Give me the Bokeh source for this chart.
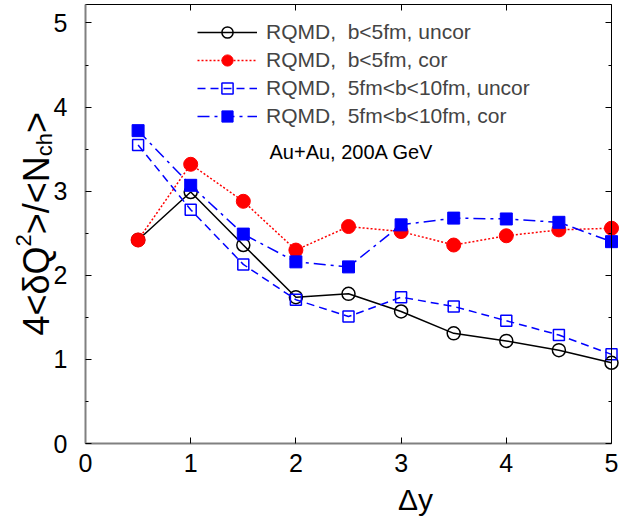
import math
from bokeh.plotting import figure
from bokeh.models import Range1d, LinearAxis, Legend, LegendItem, Label, FixedTicker
from bokeh.embed import file_html
from bokeh.resources import INLINE

# ---- data ----
dy = [0.5, 1.0, 1.5, 2.0, 2.5, 3.0, 3.5, 4.0, 4.5, 5.0]
b5_uncor = [2.42, 2.99, 2.36, 1.74, 1.78, 1.57, 1.31, 1.22, 1.11, 0.96]
b5_cor = [2.42, 3.32, 2.88, 2.30, 2.58, 2.52, 2.36, 2.47, 2.54, 2.56]
b510_uncor = [3.55, 2.78, 2.13, 1.71, 1.51, 1.74, 1.63, 1.46, 1.29, 1.06]
b510_cor = [3.72, 3.07, 2.49, 2.16, 2.10, 2.60, 2.68, 2.67, 2.63, 2.40]
x_ticks = [0, 1, 2, 3, 4, 5]
y_ticks = [0, 1, 2, 3, 4, 5]
y_minor = [0.5, 1.5, 2.5, 3.5, 4.5]
labels = ["RQMD,  b<5fm, uncor", "RQMD,  b<5fm, cor",
          "RQMD,  5fm<b<10fm, uncor", "RQMD,  5fm<b<10fm, cor"]
note = "Au+Au, 200A GeV"
x_title = "\u0394y"

# axis box limits (data units)
X0, X1 = 0.0, 5.0
Y0, Y1 = 0.0, 5.22

FONT = "Liberation Sans"
W_PX, H_PX = 619, 523

p = figure(width=W_PX, height=H_PX, output_backend="svg", toolbar_location=None,
           x_range=Range1d(-0.808, 5.076), y_range=Range1d(-0.951, 5.2675),
           x_axis_type=None, y_axis_type=None, min_border=0,
           min_border_left=0, min_border_right=0, min_border_top=0, min_border_bottom=0)
p.grid.visible = False
p.outline_line_color = None
p.background_fill_color = "white"
p.border_fill_color = "white"

# series
r1l = p.line(dy, b5_uncor, line_color="black", line_width=1.5)
r1s = p.scatter(dy, b5_uncor, marker="circle", size=13, line_color="black",
                line_width=1.5, fill_alpha=0)
r2l = p.line(dy, b5_cor, line_color="red", line_width=1.5, line_dash="2 2")
r2s = p.scatter(dy, b5_cor, marker="circle", size=14, line_color="red",
                fill_color="red")
r3l = p.line(dy, b510_uncor, line_color="blue", line_width=1.5, line_dash="8 5")
r3s = p.scatter(dy, b510_uncor, marker="square", size=11, line_color="blue",
                line_width=1.5, fill_alpha=0)
r4l = p.line(dy, b510_cor, line_color="blue", line_width=1.5, line_dash="12 5 3 5")
r4s = p.scatter(dy, b510_cor, marker="square", size=12, line_color="blue",
                fill_color="blue")


def make_axis(ticks, minor, loc, bounds, show_labels, color, width, standoff):
    ax = LinearAxis(fixed_location=loc, bounds=bounds)
    ax.ticker = FixedTicker(ticks=ticks, minor_ticks=minor)
    ax.major_tick_in = 6
    ax.major_tick_out = 0
    ax.minor_tick_in = 3 if minor else 0
    ax.minor_tick_out = 0
    ax.axis_line_color = color
    ax.axis_line_width = width
    ax.major_tick_line_color = "black"
    ax.minor_tick_line_color = "black"
    ax.major_label_text_font = FONT
    ax.major_label_text_color = "black"
    ax.major_label_text_font_size = "25px"
    ax.major_label_standoff = standoff
    if not show_labels:
        ax.major_label_overrides = {t: "" for t in ticks}
    return ax

p.add_layout(make_axis(x_ticks, [], Y0, (X0, X1), True, "#808080", 2, 10), "below")
p.add_layout(make_axis(y_ticks, y_minor, X0, (Y0, Y1), True, "#808080", 2, 18), "left")
p.add_layout(make_axis(x_ticks, [], Y1, (X0, X1), False, "black", 1, 0), "above")
p.add_layout(make_axis(y_ticks, y_minor, X1, (Y0, Y1), False, "black", 1, 0), "right")

# legend (screen units, frame == canvas, y measured from bottom)
legend = Legend(items=[
    LegendItem(label=labels[0], renderers=[r1l, r1s]),
    LegendItem(label=labels[1], renderers=[r2l, r2s]),
    LegendItem(label=labels[2], renderers=[r3l, r3s]),
    LegendItem(label=labels[3], renderers=[r4l, r4s]),
], location=(197, 393))
legend.glyph_width = 60
legend.glyph_height = 28
legend.label_height = 28
legend.spacing = 0
legend.padding = 0
legend.margin = 0
legend.label_standoff = 9
legend.border_line_alpha = 0
legend.background_fill_alpha = 0
legend.label_text_font = FONT
legend.label_text_font_size = "21px"
legend.label_text_baseline = "middle"
p.add_layout(legend)

p.add_layout(Label(x=269, y=372, x_units="screen", y_units="screen", text=note,
                   text_font=FONT, text_font_size="20px", text_baseline="middle",
                   text_align="left", text_color="black"))

# x axis title
p.add_layout(Label(x=415, y=24, x_units="screen", y_units="screen", text=x_title,
                   text_font=FONT, text_font_size="30px", text_baseline="middle",
                   text_align="center", text_color="black"))

# y axis title built from pieces (rotated, reading upward)
F = 36
SF = 22
W = {"4": 0.556, "<": 0.584, ">": 0.584, "/": 0.278, "Q": 0.778, "N": 0.722,
     "\u03b4": 0.556, "2": 0.556, "c": 0.5, "h": 0.556}
def width(s, size):
    return sum(W[ch] for ch in s) * size

mid_x = 36
pos = 523 - 335
pieces = [("4<\u03b4Q", F, 0), ("2", SF, -13), (">/<N", F, 0), ("ch", SF, 8), (">", F, 0)]
for txt, size, shift in pieces:
    p.add_layout(Label(x=mid_x + shift, y=pos, x_units="screen", y_units="screen",
                       text=txt, angle=math.pi / 2, text_font=FONT,
                       text_font_size=f"{size}px", text_align="left",
                       text_baseline="middle", text_color="black"))
    pos += width(txt, size)

open("out.html", "w").write(file_html(p, INLINE))
